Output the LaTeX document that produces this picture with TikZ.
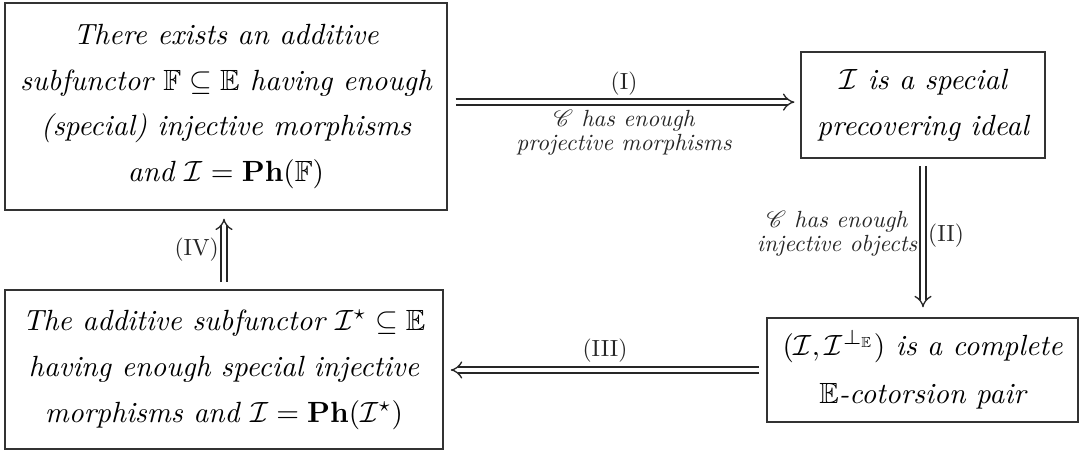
\documentclass[tikz,border=0pt]{standalone}
\usepackage{amsmath,amssymb,mathrsfs}
\usetikzlibrary{arrows.meta}
\begin{document}
\begin{tikzpicture}[x=0.342pt,y=-0.342pt,
  box/.style={draw=black!80,line width=0.5pt,align=center,font=\itshape,inner sep=0pt},
  impl/.style={double,double distance=1.6pt,line width=0.45pt,-{Implies},black!85},
  lab/.style={inner sep=2pt,scale=0.8,transform shape},
  cond/.style={font=\itshape,align=center,inner sep=2pt,scale=0.8,transform shape}]
\useasboundingbox (0,0) rectangle (1081,452);
\node[box,minimum width=151.2pt,minimum height=70.8pt] (A) at (226,106.5)
  {There exists an additive\\[3.7pt]
   subfunctor $\mathbb{F}\subseteq\mathbb{E}$ having enough\\[3.7pt]
   (special) injective morphisms\\[3.7pt]
   and $\mathcal{I}=\mathbf{Ph}(\mathbb{F})$};
\node[box,minimum width=83.4pt,minimum height=36.3pt] (B) at (923,105)
  {$\mathcal{I}$ is a special\\[3.7pt] precovering ideal};
\node[box,minimum width=106.4pt,minimum height=35.6pt] (C) at (922.5,370)
  {$(\mathcal{I},\mathcal{I}^{\perp_{\mathbb{E}}})$ is a complete\\[4.5pt]
   $\mathbb{E}$-cotorsion pair};
\node[box,minimum width=149.8pt,minimum height=54.4pt] (D) at (224,369.5)
  {The additive subfunctor $\mathcal{I}^{\star}\subseteq\mathbb{E}$\\[3.7pt]
   having enough special injective\\[3.7pt]
   morphisms and $\mathcal{I}=\mathbf{Ph}(\mathcal{I}^{\star})$};
% (I)
\draw[impl,shorten <=2.7pt,shorten >=2pt] ([yshift=1.5pt]A.east) -- ([yshift=1.5pt]A.east -| B.west)
  node[midway,above,lab,yshift=0.5pt] (l1) {(I)}
  node[midway,below,cond,yshift=-1pt] (c1) {$\mathscr{C}$\ has enough\\[-1.7pt] projective morphisms};
% (II)
\draw[impl,shorten <=2.4pt,shorten >=3.4pt] (B.south) -- (B.south |- C.north)
  node[midway,left,cond,xshift=-0.3pt,yshift=2pt] (c2) {$\mathscr{C}$\ has enough\\[-1.7pt] injective objects}
  node[midway,right,lab,yshift=1pt] (l2) {(II)};
% (III)
\draw[impl,shorten <=2.4pt,shorten >=2.4pt] (C.west) -- (C.west -| D.east)
  node[midway,above,lab,yshift=1pt] (l3) {(III)};
% (IV)
\draw[impl,shorten <=2.4pt,shorten >=2.7pt] (D.north) -- (D.north |- A.south)
  node[midway,left,lab] (l4) {(IV)};
\end{tikzpicture}
\end{document}
